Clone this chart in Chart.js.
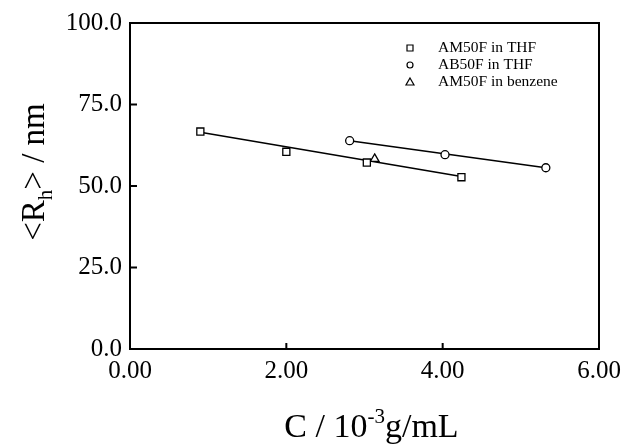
<!DOCTYPE html>
<html>
<head>
<meta charset="utf-8">
<script src="https://cdn.jsdelivr.net/npm/chart.js@4.4.1/dist/chart.umd.min.js"></script>
<style>
html, body { margin: 0; padding: 0; background: #fff; }
#wrap { width: 623px; height: 444px; }
</style>
</head>
<body>
<div id="wrap"><canvas id="rhChart"></canvas></div>
<script>
// concentration (10^-3 g/mL) and hydrodynamic radius (nm)
const amThfC = [0.90, 2.00, 3.03, 4.24];
const amThfR = [66.7, 60.5, 57.2, 52.7];
const abThfC = [2.81, 4.03, 5.32];
const abThfR = [63.9, 59.6, 55.6];
const amBenzC = [3.13];
const amBenzR = [58.3];
// linear fits drawn through each THF series
const amFitC = [0.90, 4.24];
const amFitR = [66.5, 52.9];
const abFitC = [2.81, 5.32];
const abFitR = [63.9, 55.6];
const xTicks = [0, 2, 4, 6];
const yTicks = [0, 25, 50, 75, 100];

const serif = '"Liberation Serif", "Times New Roman", serif';

function pts(xs, ys) {
    return xs.map((v, i) => ({ x: v, y: ys[i] }));
}

function drawRich(ctx, parts, cx, baseY) {
    let w = 0;
    parts.forEach(p => {
        ctx.font = p.size + 'px ' + serif;
        w += ctx.measureText(p.t).width;
    });
    let x = cx - w / 2;
    parts.forEach(p => {
        ctx.font = p.size + 'px ' + serif;
        ctx.fillText(p.t, x, baseY + (p.dy || 0));
        x += ctx.measureText(p.t).width;
    });
}

const decor = {
    id: 'decor',
    afterDraw(chart) {
        const { ctx, chartArea: a, scales: { x, y } } = chart;
        ctx.save();
        ctx.strokeStyle = '#000';
        ctx.lineWidth = 2;
        ctx.strokeRect(a.left, a.top, a.right - a.left, a.bottom - a.top);
        ctx.beginPath();
        xTicks.forEach(v => {
            const px = x.getPixelForValue(v);
            ctx.moveTo(px, a.bottom);
            ctx.lineTo(px, a.bottom - 6);
        });
        yTicks.forEach(v => {
            const py = y.getPixelForValue(v);
            ctx.moveTo(a.left, py);
            ctx.lineTo(a.left + 7, py);
        });
        ctx.stroke();

        // legend inside the plot
        ctx.fillStyle = '#000';
        ctx.textBaseline = 'middle';
        ctx.textAlign = 'left';
        const items = chart.data.datasets.filter(d => !d.isFit);
        items.forEach((d, i) => {
            const ly = 48 + i * 17;
            const lx = 410;
            ctx.lineWidth = 1.2;
            ctx.beginPath();
            if (d.pointStyle === 'rect') {
                ctx.rect(lx - 3, ly - 3, 6, 6);
            } else if (d.pointStyle === 'circle') {
                ctx.arc(lx, ly, 3, 0, Math.PI * 2);
            } else {
                ctx.moveTo(lx, ly - 4);
                ctx.lineTo(lx + 4, ly + 3);
                ctx.lineTo(lx - 4, ly + 3);
                ctx.closePath();
            }
            ctx.stroke();
            ctx.font = '15.5px ' + serif;
            ctx.fillText(d.label, 438, ly);
        });

        // axis titles with super/subscripts
        ctx.textBaseline = 'alphabetic';
        drawRich(ctx, [
            { t: 'C / 10', size: 34 },
            { t: '-3', size: 21, dy: -14 },
            { t: 'g/mL', size: 34 }
        ], (a.left + a.right) / 2 + 7, 437);

        ctx.translate(44, 172);
        ctx.rotate(-Math.PI / 2);
        drawRich(ctx, [
            { t: '<R', size: 33 },
            { t: 'h', size: 21, dy: 8 },
            { t: '> / nm', size: 33 }
        ], 0, 0);
        ctx.restore();
    }
};

new Chart(document.getElementById('rhChart'), {
    type: 'scatter',
    data: {
        datasets: [{
            label: 'AM50F in THF',
            data: pts(amThfC, amThfR),
            pointStyle: 'rect',
            pointRadius: 5,
            pointBorderWidth: 1.3,
            borderColor: '#000',
            backgroundColor: '#fff'
        }, {
            label: 'AB50F in THF',
            data: pts(abThfC, abThfR),
            pointStyle: 'circle',
            pointRadius: 4,
            pointBorderWidth: 1.3,
            borderColor: '#000',
            backgroundColor: '#fff'
        }, {
            label: 'AM50F in benzene',
            data: pts(amBenzC, amBenzR),
            pointStyle: 'triangle',
            pointRadius: 5,
            pointBorderWidth: 1.3,
            borderColor: '#000',
            backgroundColor: '#fff'
        }, {
            label: 'fit AM50F',
            isFit: true,
            data: pts(amFitC, amFitR),
            showLine: true,
            pointRadius: 0,
            borderColor: '#000',
            borderWidth: 1.6,
            order: 5
        }, {
            label: 'fit AB50F',
            isFit: true,
            data: pts(abFitC, abFitR),
            showLine: true,
            pointRadius: 0,
            borderColor: '#000',
            borderWidth: 1.6,
            order: 5
        }]
    },
    options: {
        responsive: true,
        maintainAspectRatio: false,
        animation: false,
        layout: { padding: { top: 23, right: 24, left: 0, bottom: 0 } },
        plugins: {
            legend: { display: false },
            tooltip: { enabled: false }
        },
        scales: {
            x: {
                min: 0,
                max: 6,
                afterBuildTicks: s => { s.ticks = xTicks.map(v => ({ value: v })); },
                afterFit: s => { s.height = 95; s.paddingLeft = 0; s.paddingRight = 0; },
                grid: { display: false, drawTicks: false },
                border: { display: false },
                ticks: {
                    color: '#000',
                    padding: 7,
                    maxRotation: 0,
                    font: { family: serif, size: 25 },
                    callback: v => v.toFixed(2)
                }
            },
            y: {
                min: 0,
                max: 100,
                afterBuildTicks: s => { s.ticks = yTicks.map(v => ({ value: v })); },
                afterFit: s => { s.width = 130; s.paddingTop = 0; s.paddingBottom = 0; },
                grid: { display: false, drawTicks: false },
                border: { display: false },
                ticks: {
                    color: '#000',
                    padding: 8,
                    font: { family: serif, size: 25 },
                    callback: v => v.toFixed(1)
                }
            }
        }
    },
    plugins: [decor]
});
</script>
</body>
</html>
